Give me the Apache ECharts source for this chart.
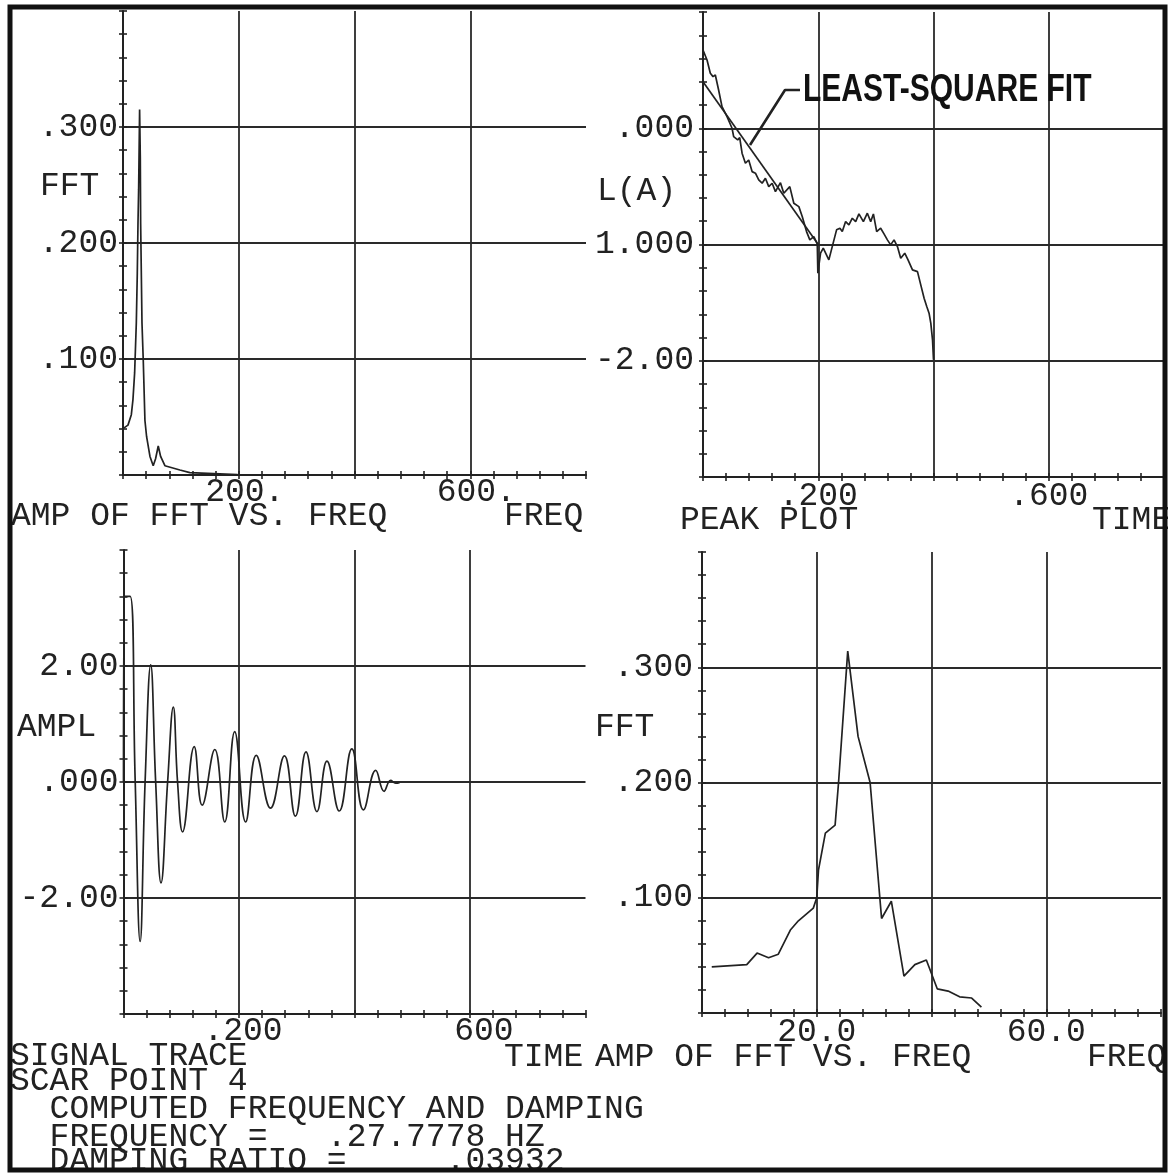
<!DOCTYPE html>
<html>
<head>
<meta charset="utf-8">
<script src="https://cdn.jsdelivr.net/npm/echarts@6/dist/echarts.min.js"></script>
<style>
  html, body { margin: 0; padding: 0; background: #fff; }
  #chart { width: 1168px; height: 1173px; }
</style>
</head>
<body>
<div id="chart"></div>
<script>
// 左上: FFT 幅值 vs 频率
const tlFreq = [0, 8.6, 14.4, 17.2, 20.1, 23.0, 24.7, 25.9, 27.0, 28.7, 29.9, 30.5, 32.8, 35.0, 37.9, 40.8, 46.6, 52.2, 56.3, 60.9, 65.0, 72.4, 98.3, 115.5, 198];
const tlAmp  = [0.040, 0.043, 0.052, 0.065, 0.088, 0.131, 0.174, 0.217, 0.246, 0.315, 0.274, 0.217, 0.131, 0.099, 0.047, 0.033, 0.016, 0.008, 0.014, 0.025, 0.016, 0.008, 0.0043, 0.002, 0.0003];

// 右上: 峰值对数 vs 时间
const trTime = [0, .007, .0127, .0174, .0214, .0271, .033, .0417, .0504, .0532, .0602, .0637, .0678, .0736, .0793, .0852, .091, .0967, .1026, .1083, .1141, .12, .1257, .1344, .1402, .1506, .1576, .1663, .1722, .1797, .1854, .1923, .1983, .1993, .204, .2087, .2184, .2243, .2318, .2376, .2417, .2475, .2532, .2591, .2649, .2706, .2783, .2852, .291, .2957, .3014, .3083, .3141, .32, .3257, .3315, .3374, .3431, .3501, .3558, .3635, .3722, .3779, .3837, .3883, .3923, .3953, .3983, .4];
const trLogAmp = [.673, .587, .473, .444, .458, .329, .186, .1, 0, -.072, -.1, -.081, -.215, -.301, -.273, -.373, -.387, -.445, -.473, -.43, -.502, -.473, -.545, -.468, -.559, -.502, -.645, -.674, -.76, -.889, -.96, -.932, -.995, -1.247, -1.075, -1.032, -1.132, -1.018, -.874, -.86, -.889, -.803, -.831, -.774, -.803, -.737, -.803, -.731, -.803, -.737, -.889, -.86, -.909, -.96, -1.003, -.96, -1.018, -1.118, -1.075, -1.132, -1.218, -1.233, -1.347, -1.462, -1.534, -1.591, -1.677, -1.82, -1.992];
const fitTime = [0, 0.2];
const fitLogAmp = [0.40, -1.0];
const leaderTime = [0.0816, 0.1423, 0.1683];
const leaderLogAmp = [-0.144, 0.329, 0.329];

// 左下: 信号时程
const blTime = [0, 0.0017, 0.0115, 0.0201, 0.0288, 0.0374, 0.0471, 0.0557, 0.065, 0.0764, 0.0862, 0.0936, 0.1023, 0.1224, 0.1362, 0.1581, 0.1753, 0.1925, 0.2115, 0.2299, 0.2546, 0.2787, 0.2977, 0.316, 0.335, 0.3523, 0.3736, 0.3954, 0.4155, 0.4368, 0.4512, 0.4626, 0.4713, 0.478];
const blAmpl = [0, 3.2, 3.2, 0.07, -2.75, 0, 2.02, 0, -1.74, 0, 1.29, 0, -0.86, 0.61, -0.40, 0.56, -0.69, 0.87, -0.69, 0.46, -0.45, 0.45, -0.59, 0.52, -0.51, 0.36, -0.50, 0.57, -0.48, 0.20, -0.16, 0.03, -0.02, -0.01];

// 右下: FFT 局部放大
const brFreq = [1.7, 7.8, 9.6, 11.6, 13.3, 15.4, 16.8, 19.4, 20.0, 20.3, 21.5, 23.2, 23.8, 25.4, 27.2, 29.3, 31.3, 33.0, 35.2, 37.1, 39.1, 41.0, 42.9, 44.9, 47.0, 48.7];
const brAmp  = [0.040, 0.042, 0.052, 0.048, 0.051, 0.072, 0.080, 0.091, 0.100, 0.124, 0.156, 0.163, 0.200, 0.314, 0.240, 0.200, 0.082, 0.097, 0.032, 0.042, 0.046, 0.021, 0.019, 0.014, 0.013, 0.005];

// 刻度标签
const tlXTicks = [200, 600], tlXLabels = ['200.', '600.'];
const tlYTicks = [0.1, 0.2, 0.3], tlYLabels = ['.100', '.200', '.300'];
const trXTicks = [0.2, 0.6], trXLabels = ['.200', '.600'];
const trYTicks = [0, -1, -2], trYLabels = ['.000', '1.000', '-2.00'];
const blXTicks = [0.2, 0.6], blXLabels = ['.200', ' 600'];
const blYTicks = [2, 0, -2], blYLabels = ['2.00', '.000', '-2.00'];
const brXTicks = [20, 60], brXLabels = ['20.0', '60.0'];
const brYTicks = [0.1, 0.2, 0.3], brYLabels = ['.100', '.200', '.300'];

const INK = '#222';
const GRIDC = '#2a2a2a';
const MONO = '"Liberation Mono", "DejaVu Sans Mono", monospace';
const FS = 33;

function pairs(xs, ys) {
    return xs.map(function (x, i) { return [x, ys[i]]; });
}

function labeler(ticks, labels) {
    return function (v) {
        for (let i = 0; i < ticks.length; i++) {
            if (Math.abs(v - ticks[i]) < 1e-6) return labels[i];
        }
        return '';
    };
}

// 主轴: 轴线、外刻度、网格线、标签
function mainAxis(dim, grid, min, max, interval, ticks, labels, margin, pad) {
    return {
        type: 'value', gridIndex: grid,
        position: dim === 'x' ? 'bottom' : 'left',
        min: min, max: max, interval: interval,
        axisLine: { onZero: false, lineStyle: { color: INK, width: 2 } },
        axisTick: { show: true, length: 4, lineStyle: { color: INK, width: 1.6 } },
        minorTick: { show: true, splitNumber: 5, length: 4, lineStyle: { color: INK, width: 1.6 } },
        splitLine: { show: true, showMinLine: false, showMaxLine: false, lineStyle: { color: GRIDC, width: 1.8 } },
        axisLabel: {
            formatter: labeler(ticks, labels), margin: margin, padding: pad || 0,
            fontFamily: MONO, fontSize: FS, color: INK,
            showMinLabel: true, showMaxLabel: true, hideOverlap: false
        }
    };
}

// 内侧刻度 (让刻度穿过轴线)
function innerAxis(dim, grid, min, max, interval) {
    return {
        type: 'value', gridIndex: grid,
        position: dim === 'x' ? 'bottom' : 'left',
        min: min, max: max, interval: interval,
        axisLine: { show: false, onZero: false },
        axisTick: { show: true, inside: true, length: 4, lineStyle: { color: INK, width: 1.6 } },
        minorTick: { show: true, splitNumber: 5, length: 4, lineStyle: { color: INK, width: 1.6 } },
        splitLine: { show: false },
        axisLabel: { show: false }
    };
}

function txt(str, x, y) {
    return {
        type: 'text', x: x, y: y, z: 10,
        style: { text: str, font: FS + 'px ' + MONO, fill: INK, align: 'left', verticalAlign: 'middle' }
    };
}

function curve(xi, data, w) {
    return {
        type: 'line', xAxisIndex: xi, yAxisIndex: xi, data: data,
        showSymbol: false, symbol: 'none', animation: false,
        lineStyle: { color: INK, width: w || 1.7 }
    };
}

const chart = echarts.init(document.getElementById('chart'));

const option = {
    backgroundColor: '#fff',
    animation: false,
    grid: [
        { left: 123, top: 11, width: 463, height: 464 },
        { left: 703, top: 12, width: 461, height: 465 },
        { left: 123.5, top: 550, width: 462, height: 464 },
        { left: 702, top: 552, width: 459, height: 461 }
    ],
    xAxis: [
        mainAxis('x', 0, 0, 800, 200, tlXTicks, tlXLabels, 1, [0, 0, 0, 12]),
        mainAxis('x', 1, 0, 0.8, 0.2, trXTicks, trXLabels, 3),
        mainAxis('x', 2, 0, 0.8, 0.2, blXTicks, blXLabels, 1, [0, 0, 0, 8]),
        mainAxis('x', 3, 0, 80, 20, brXTicks, brXLabels, 3),
        innerAxis('x', 0, 0, 800, 200),
        innerAxis('x', 1, 0, 0.8, 0.2),
        innerAxis('x', 2, 0, 0.8, 0.2),
        innerAxis('x', 3, 0, 80, 20)
    ],
    yAxis: [
        mainAxis('y', 0, 0, 0.4, 0.1, tlYTicks, tlYLabels, 5),
        mainAxis('y', 1, -3, 1, 1, trYTicks, trYLabels, 9),
        mainAxis('y', 2, -4, 4, 2, blYTicks, blYLabels, 5),
        mainAxis('y', 3, 0, 0.4, 0.1, brYTicks, brYLabels, 9),
        innerAxis('y', 0, 0, 0.4, 0.1),
        innerAxis('y', 1, -3, 1, 1),
        innerAxis('y', 2, -4, 4, 2),
        innerAxis('y', 3, 0, 0.4, 0.1)
    ],
    series: [
        curve(0, pairs(tlFreq, tlAmp)),
        curve(1, pairs(trTime, trLogAmp)),
        curve(1, pairs(fitTime, fitLogAmp)),
        curve(1, pairs(leaderTime, leaderLogAmp), 2.6),
        Object.assign(curve(2, pairs(blTime, blAmpl)), { smooth: 0.45 }),
        curve(3, pairs(brFreq, brAmp))
    ],
    graphic: [
        // 轴名与标题
        txt('FFT', 40, 186),
        txt('AMP OF FFT VS. FREQ', 11, 516),
        txt('FREQ', 504, 516),
        txt('L(A)', 597, 191),
        txt('PEAK PLOT', 680, 520),
        txt('TIME', 1092, 520),
        txt('AMPL', 17, 727),
        txt('FFT', 595, 727),
        txt('SIGNAL TRACE', 10, 1056),
        txt('TIME', 504, 1057),
        txt('AMP OF FFT VS. FREQ', 595, 1057),
        txt('FREQ', 1087, 1057),
        txt('SCAR POINT 4', 10, 1081),
        txt('  COMPUTED FREQUENCY AND DAMPING', 10, 1109),
        txt('  FREQUENCY =   .27.7778 HZ', 10, 1137),
        txt('  DAMPING RATIO =     .03932', 10, 1161),
        {
            type: 'text', x: 803, y: 91, scaleX: 0.79, z: 10,
            style: { text: 'LEAST-SQUARE FIT', font: 'bold 38px "Liberation Sans", Arial, sans-serif', fill: '#111', align: 'left', verticalAlign: 'middle' }
        },
        // 外框
        {
            type: 'rect', z: 20,
            shape: { x: 10, y: 7, width: 1155, height: 1163 },
            style: { fill: 'none', stroke: '#111', lineWidth: 5 }
        }
    ]
};

chart.setOption(option);
</script>
</body>
</html>
